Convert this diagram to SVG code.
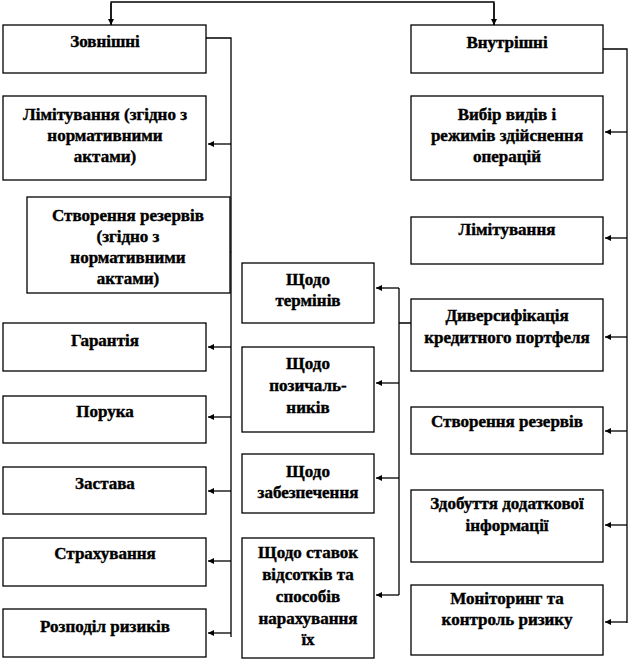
<svg xmlns="http://www.w3.org/2000/svg" width="628" height="661" viewBox="0 0 628 661">
<style>
.box{fill:#fff;stroke:#000;stroke-width:1.3}
text{font-family:'Liberation Serif','DejaVu Serif',serif;font-weight:700;font-size:17px;text-anchor:middle;fill:#000;stroke:#000;stroke-width:0.4}
.ln{fill:none;stroke:#000;stroke-width:1.3}
</style>
<defs>
<marker id="ah" viewBox="0 0 10 10" refX="10" refY="5" markerWidth="9" markerHeight="6" markerUnits="userSpaceOnUse" orient="auto">
<path d="M0,0 L10,5 L0,10 z" fill="#000"/>
</marker>
</defs>
<rect width="628" height="661" fill="#fff"/>
<g id="connectors">
<path class="ln" d="M111,25 V2 H494 V25" />
<path class="ln" d="M111,3 V25" marker-end="url(#ah)"/>
<path class="ln" d="M494,3 V25" marker-end="url(#ah)"/>
<path class="ln" d="M206,38 H231 V637"/>
<path class="ln" d="M231,144 H208" marker-end="url(#ah)"/>
<path class="ln" d="M231,252 H209" marker-end="url(#ah)"/>
<path class="ln" d="M231,347 H208" marker-end="url(#ah)"/>
<path class="ln" d="M231,417 H208" marker-end="url(#ah)"/>
<path class="ln" d="M231,491 H208" marker-end="url(#ah)"/>
<path class="ln" d="M231,561 H208" marker-end="url(#ah)"/>
<path class="ln" d="M231,633 H208" marker-end="url(#ah)"/>
<path class="ln" d="M603,49 H627 V623"/>
<path class="ln" d="M627,132 H605" marker-end="url(#ah)"/>
<path class="ln" d="M627,238 H605" marker-end="url(#ah)"/>
<path class="ln" d="M627,337 H605" marker-end="url(#ah)"/>
<path class="ln" d="M627,431 H605" marker-end="url(#ah)"/>
<path class="ln" d="M627,525 H605" marker-end="url(#ah)"/>
<path class="ln" d="M627,622 H605" marker-end="url(#ah)"/>
<path class="ln" d="M411,323 H399 M399,288 V595"/>
<path class="ln" d="M399,288 H376" marker-end="url(#ah)"/>
<path class="ln" d="M399,383 H376" marker-end="url(#ah)"/>
<path class="ln" d="M399,478 H376" marker-end="url(#ah)"/>
<path class="ln" d="M399,595 H376" marker-end="url(#ah)"/>
</g>
<g id="n-zovnishni"><rect class="box" x="3" y="25" width="203" height="48"/><text x="105" y="47">Зовнішні</text></g>
<g id="n-limit-ext"><rect class="box" x="3" y="96" width="203" height="84"/><text x="105" y="120">Лімітування  (згідно з</text><text x="105" y="141">нормативними</text><text x="105" y="162">актами)</text></g>
<g id="n-rezerv-ext"><rect class="box" x="27" y="197" width="203" height="96"/><text x="128" y="221">Створення резервів</text><text x="128" y="242">(згідно з</text><text x="128" y="263">нормативними</text><text x="128" y="284">актами)</text></g>
<g id="n-garantiya"><rect class="box" x="3" y="323" width="203" height="48"/><text x="105" y="346">Гарантія</text></g>
<g id="n-poruka"><rect class="box" x="3" y="396" width="203" height="47"/><text x="105" y="417">Порука</text></g>
<g id="n-zastava"><rect class="box" x="3" y="467" width="203" height="47"/><text x="105" y="489">Застава</text></g>
<g id="n-strakh"><rect class="box" x="3" y="538" width="203" height="48"/><text x="105" y="559">Страхування</text></g>
<g id="n-rozpodil"><rect class="box" x="3" y="609" width="203" height="48"/><text x="105" y="632">Розподіл ризиків</text></g>
<g id="n-terminiv"><rect class="box" x="242" y="263" width="132" height="60"/><text x="308" y="285">Щодо</text><text x="308" y="306">термінів</text></g>
<g id="n-pozych"><rect class="box" x="242" y="347" width="132" height="85"/><text x="308" y="369">Щодо</text><text x="308" y="391">позичаль-</text><text x="308" y="413">ників</text></g>
<g id="n-zabezp"><rect class="box" x="242" y="454" width="132" height="59"/><text x="308" y="477">Щодо</text><text x="308" y="498">забезпечення</text></g>
<g id="n-stavok"><rect class="box" x="242" y="538" width="132" height="120"/><text x="308" y="558">Щодо ставок</text><text x="308" y="580">відсотків та</text><text x="308" y="602">способів</text><text x="308" y="624">нарахування</text><text x="308" y="645">їх</text></g>
<g id="n-vnutrishni"><rect class="box" x="411" y="25" width="192" height="48"/><text x="507" y="48">Внутрішні</text></g>
<g id="n-vybir"><rect class="box" x="411" y="96" width="192" height="84"/><text x="507" y="120">Вибір видів і</text><text x="507" y="141">режимів здійснення</text><text x="507" y="162">операцій</text></g>
<g id="n-limit-int"><rect class="box" x="411" y="217" width="192" height="47"/><text x="507" y="235">Лімітування</text></g>
<g id="n-dyvers"><rect class="box" x="411" y="299" width="192" height="72"/><text x="507" y="321">Диверсифікація</text><text x="507" y="343">кредитного портфеля</text></g>
<g id="n-rezerv-int"><rect class="box" x="411" y="407" width="192" height="47"/><text x="507" y="427">Створення резервів</text></g>
<g id="n-zdobuttya"><rect class="box" x="411" y="490" width="192" height="72"/><text x="507" y="509">Здобуття додаткової</text><text x="507" y="531">інформації</text></g>
<g id="n-monitoring"><rect class="box" x="411" y="585" width="192" height="70"/><text x="507" y="604">Моніторинг та</text><text x="507" y="625">контроль ризику</text></g>
</svg>
